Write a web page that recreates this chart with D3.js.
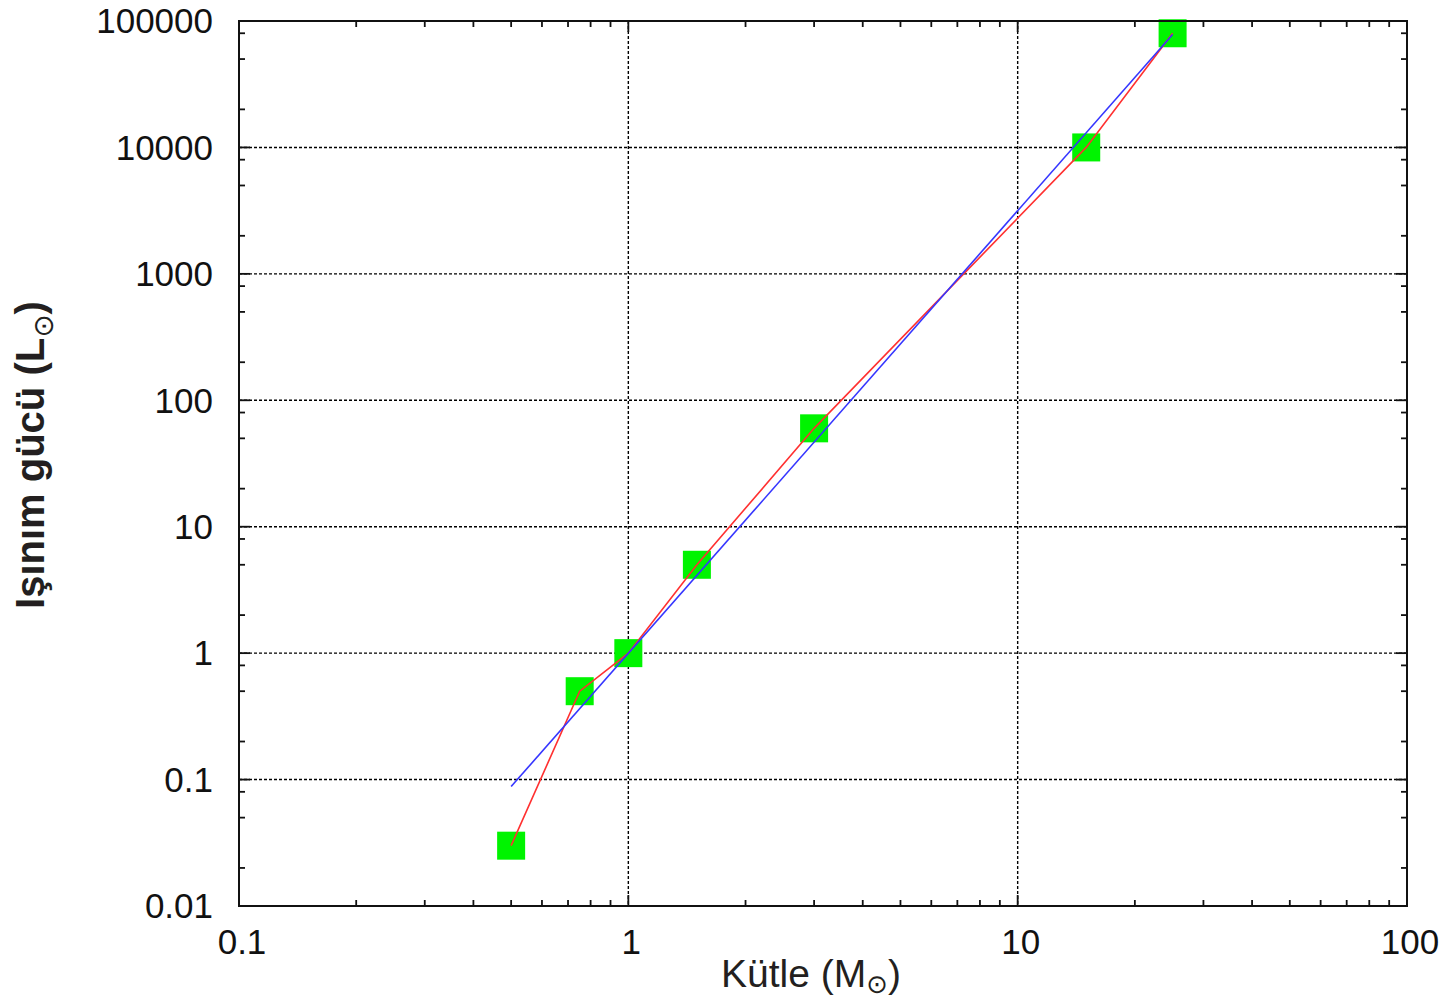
<!DOCTYPE html>
<html>
<head>
<meta charset="utf-8">
<script src="https://cdn.jsdelivr.net/npm/d3@7"></script>
<style>
  html, body { margin: 0; padding: 0; background: #fff; }
  svg { display: block; }
</style>
</head>
<body>
<svg id="chart" width="1453" height="1005"></svg>
<script>
// ---- data ----
const mass = [0.5, 0.75, 1, 1.5, 3, 15, 25];
const luminosity = [0.03, 0.5, 1, 5, 60, 10000, 80000];
const fitMass = [0.5, 25];
const fitLum = [0.088, 78125];
const xTickValues = [0.1, 1, 10, 100];
const xTickLabels = ["0.1", "1", "10", "100"];
const yTickValues = [0.01, 0.1, 1, 10, 100, 1000, 10000, 100000];
const yTickLabels = ["0.01", "0.1", "1", "10", "100", "1000", "10000", "100000"];
const xMinorMultipliers = [2, 3, 4, 5, 6, 7, 8, 9];
const yMinorMultipliers = [2, 5, 8];
const xTitle = "Kütle (M";
const yTitle = "Işınım gücü (L";
const sunSymbol = "⊙";

(function () {
// ---- layout ----
const svg = d3.select("#chart");
const pL = 239, pR = 1407, pT = 21, pB = 906;

const x = d3.scaleLog().domain([0.1, 100]).range([pL, pR]);
const y = d3.scaleLog().domain([0.01, 100000]).range([pB, pT]);

const minorX = [];
xTickValues.slice(0, -1).forEach(v => xMinorMultipliers.forEach(m => minorX.push(v * m)));
const minorY = [];
yTickValues.slice(0, -1).forEach(v => yMinorMultipliers.forEach(m => minorY.push(v * m)));

// grid
const grid = svg.append("g").attr("stroke", "#000").attr("stroke-width", 1.4).attr("stroke-dasharray", "3,2");
grid.selectAll("line.gx").data(xTickValues.slice(1, -1)).enter().append("line")
  .attr("class", "gx")
  .attr("x1", d => x(d)).attr("x2", d => x(d)).attr("y1", pT).attr("y2", pB);
grid.selectAll("line.gy").data(yTickValues.slice(1, -1)).enter().append("line")
  .attr("class", "gy")
  .attr("x1", pL).attr("x2", pR).attr("y1", d => y(d)).attr("y2", d => y(d));

// ticks (inside, on all four sides)
const ticks = svg.append("g").attr("stroke", "#111").attr("stroke-width", 1.8);
const majorLen = 11, minorLen = 6;
function vTicks(vals, len) {
  vals.forEach(v => {
    ticks.append("line").attr("x1", x(v)).attr("x2", x(v)).attr("y1", pB).attr("y2", pB - len);
    ticks.append("line").attr("x1", x(v)).attr("x2", x(v)).attr("y1", pT).attr("y2", pT + len);
  });
}
function hTicks(vals, len) {
  vals.forEach(v => {
    ticks.append("line").attr("y1", y(v)).attr("y2", y(v)).attr("x1", pL).attr("x2", pL + len);
    ticks.append("line").attr("y1", y(v)).attr("y2", y(v)).attr("x1", pR).attr("x2", pR - len);
  });
}
vTicks(xTickValues, majorLen); vTicks(minorX, minorLen);
hTicks(yTickValues, majorLen); hTicks(minorY, minorLen);

// data markers
const sq = 28;
const pts = mass.map((m, i) => [m, luminosity[i]]);
svg.append("g").selectAll("rect").data(pts).enter().append("rect")
  .attr("x", d => x(d[0]) - sq / 2).attr("y", d => y(d[1]) - sq / 2)
  .attr("width", sq).attr("height", sq).attr("fill", "#00f400");

// data line (red)
const line = d3.line().x(d => x(d[0])).y(d => y(d[1]));
svg.append("path").datum(pts)
  .attr("d", line).attr("fill", "none").attr("stroke", "#ff3030").attr("stroke-width", 1.6);

// fit line (blue)
svg.append("path").datum(fitMass.map((m, i) => [m, fitLum[i]]))
  .attr("d", line).attr("fill", "none").attr("stroke", "#3535ff").attr("stroke-width", 1.6);

// frame
svg.append("rect").attr("x", pL).attr("y", pT).attr("width", pR - pL).attr("height", pB - pT)
  .attr("fill", "none").attr("stroke", "#111").attr("stroke-width", 2);

// tick labels
const font = "'Liberation Sans', Arial, Helvetica, sans-serif";
svg.append("g").selectAll("text").data(yTickValues).enter().append("text")
  .attr("x", 213).attr("y", d => y(d)).attr("dy", "0.35em")
  .attr("text-anchor", "end").attr("font-family", font).attr("font-size", 35).attr("fill", "#111")
  .text((d, i) => yTickLabels[i]);
svg.append("g").selectAll("text").data(xTickValues).enter().append("text")
  .attr("x", d => x(d) + 3).attr("y", 954)
  .attr("text-anchor", "middle").attr("font-family", font).attr("font-size", 35).attr("fill", "#111")
  .text((d, i) => xTickLabels[i]);

// axis titles
const xt = svg.append("text").attr("x", 811).attr("y", 987).attr("text-anchor", "middle")
  .attr("font-family", font).attr("font-size", 39).attr("fill", "#231f20");
xt.append("tspan").text(xTitle);
xt.append("tspan").attr("font-size", 26).attr("dy", 6).attr("font-family", "'DejaVu Sans', sans-serif").text(sunSymbol);
xt.append("tspan").attr("dy", -6).text(")");

const yt = svg.append("text").attr("transform", "translate(44,455) rotate(-90)").attr("text-anchor", "middle")
  .attr("font-family", font).attr("font-size", 40).attr("font-weight", "bold").attr("fill", "#231f20");
yt.append("tspan").text(yTitle);
yt.append("tspan").attr("font-size", 28).attr("dy", 9).attr("font-weight", "normal").attr("font-family", "'DejaVu Sans', sans-serif").text(sunSymbol);
yt.append("tspan").attr("dy", -9).text(")");
})();
</script>
</body>
</html>
